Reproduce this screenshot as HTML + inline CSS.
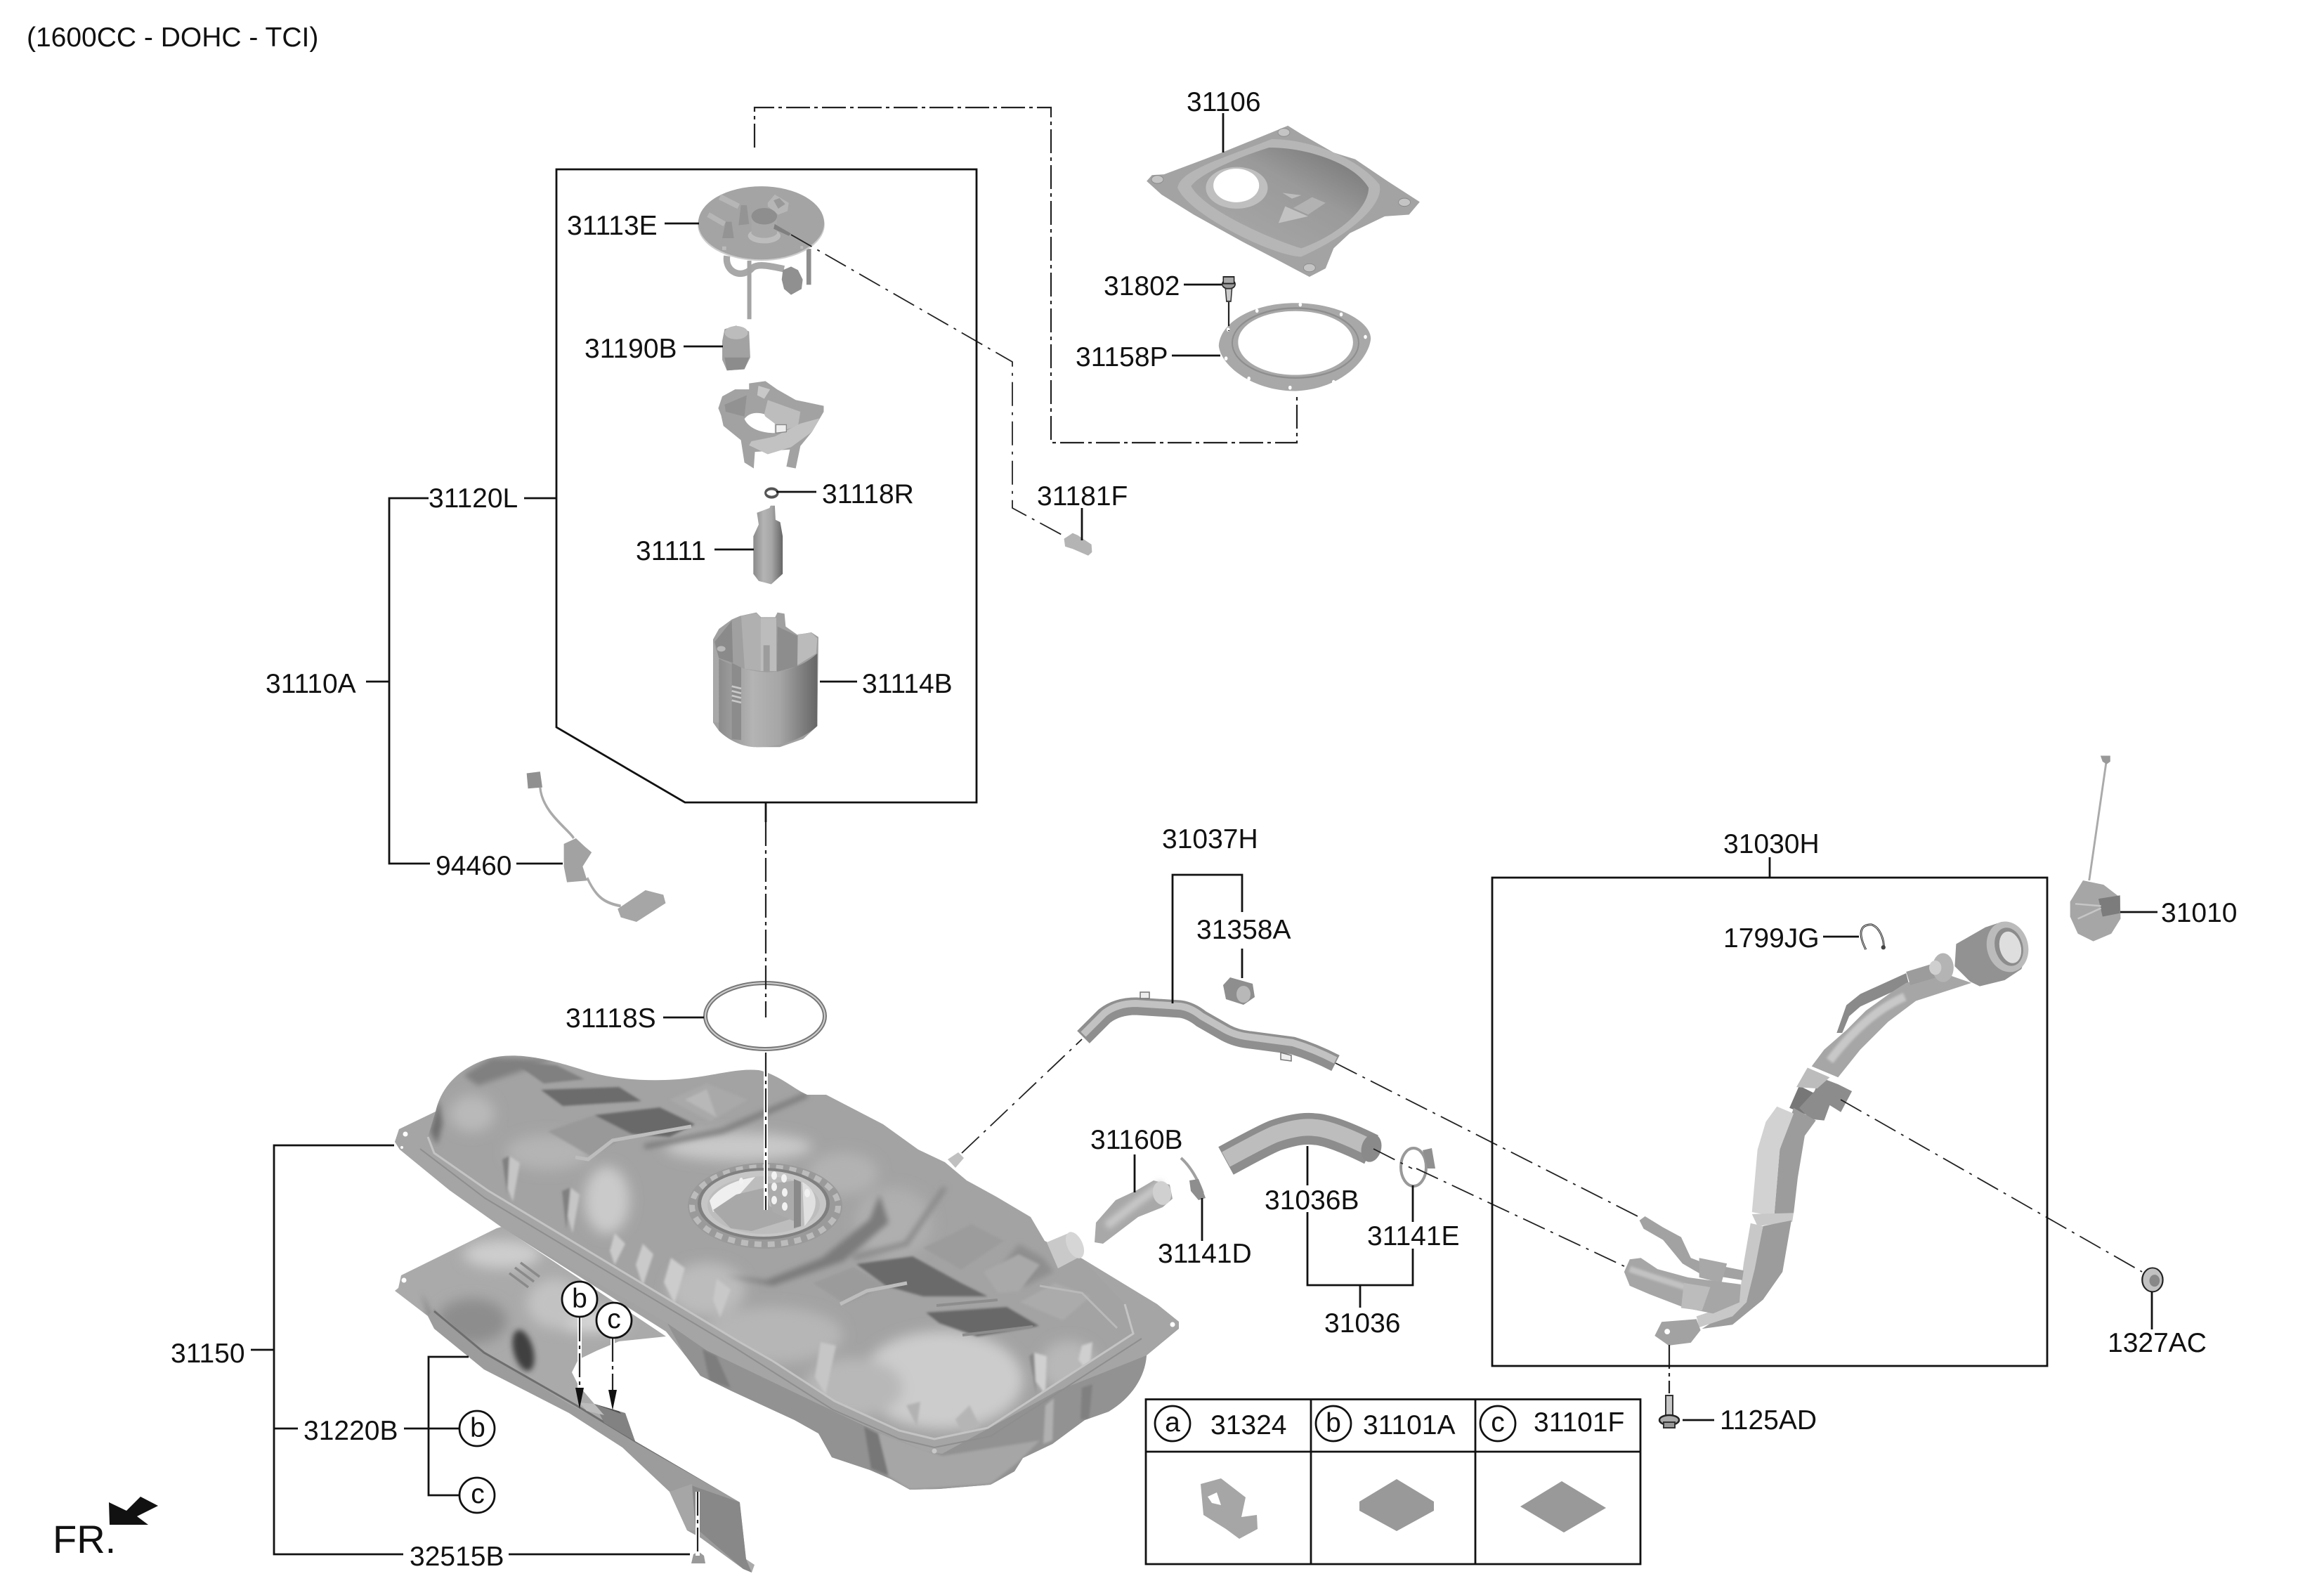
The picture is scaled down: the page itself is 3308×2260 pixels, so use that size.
<!DOCTYPE html>
<html><head><meta charset="utf-8"><style>
html,body{margin:0;padding:0;background:#fff}
svg{display:block}
text{font-family:"Liberation Sans",sans-serif;font-size:39px;fill:#111}
.l{fill:none;stroke:#111;stroke-width:2.8}
.d{fill:none;stroke:#222;stroke-width:2.2;stroke-dasharray:34 6 5 6}
.t{fill:none;stroke:#222;stroke-width:1.8;stroke-dasharray:34 9 4 9}
.p{fill:none;stroke-linecap:butt;stroke-linejoin:round}
</style></head><body>
<svg width="3308" height="2260" viewBox="0 0 3308 2260" xmlns="http://www.w3.org/2000/svg">
<defs>
<filter id="b" x="-40%" y="-40%" width="180%" height="180%"><feGaussianBlur stdDeviation="9"/></filter>
<filter id="m" x="-40%" y="-40%" width="180%" height="180%"><feGaussianBlur stdDeviation="4"/></filter>
<filter id="s" x="-30%" y="-30%" width="160%" height="160%"><feGaussianBlur stdDeviation="1.6"/></filter>
<clipPath id="tankclip"><path d="M562 1625L568 1607L620 1582C625 1560 640 1525 694 1507C730 1497 770 1503 837 1525C880 1538 940 1540 984 1534C1020 1530 1050 1520 1080 1523C1110 1530 1130 1550 1149 1558L1176 1558L1257 1600L1307 1636L1345 1654L1376 1680L1418 1703L1467 1732L1487 1766L1540 1791L1647 1856L1678 1881V1891L1632 1929C1630 1960 1610 1990 1578 2009L1544 2021L1498 2055L1456 2075L1444 2094L1410 2113L1337 2119L1295 2120L1268 2105L1238 2092L1184 2074L1165 2040L1131 2021L1042 1980L997 1958L977 1931L948 1895L716 1748L640 1694L569 1636Z"/></clipPath>
<clipPath id="shieldclip"><path d="M562 1837L567 1833L571 1815L707 1748L714 1746L948 1902L881 1909L850 1922L823 1935L814 1953L823 1971L846 1998L890 2011L904 2051L1053 2138L1062 2219L1074 2227L1070 2238L1058 2233L998 2189L978 2178L953 2123L886 2060L810 2011L689 1949L618 1891L609 1873Z"/></clipPath>
<linearGradient id="cup" x1="0" x2="1" y1="0" y2="0"><stop offset="0" stop-color="#8a8a8a"/><stop offset=".35" stop-color="#b4b4b4"/><stop offset=".62" stop-color="#a6a6a6"/><stop offset="1" stop-color="#666"/></linearGradient>
<linearGradient id="pan" x1="0" x2="1" y1="1" y2="0"><stop offset="0" stop-color="#ababab"/><stop offset=".6" stop-color="#9a9a9a"/><stop offset="1" stop-color="#707070"/></linearGradient>
</defs>

<!-- TANK -->
<g clip-path="url(#tankclip)">
 <rect x="540" y="1480" width="1160" height="660" fill="#a3a3a3"/>
 <g filter="url(#b)">
  <ellipse cx="864" cy="1708" rx="32" ry="48" fill="#cacaca"/>
  <ellipse cx="1051" cy="1632" rx="105" ry="20" fill="#c9c9c9"/>
  <ellipse cx="1341" cy="1964" rx="115" ry="70" fill="#cccccc"/>
  <ellipse cx="1215" cy="1975" rx="70" ry="42" fill="#b8b8b8"/>
  <ellipse cx="672" cy="1585" rx="32" ry="26" fill="#b9b9b9"/>
  <ellipse cx="1100" cy="1900" rx="100" ry="40" fill="#b6b6b6"/>
  <ellipse cx="1006" cy="1835" rx="55" ry="38" fill="#bcbcbc"/>
  <ellipse cx="1521" cy="1944" rx="40" ry="36" fill="#b8b8b8"/>
  <ellipse cx="1272" cy="1740" rx="55" ry="50" fill="#afafaf"/>
  <ellipse cx="1200" cy="1670" rx="50" ry="30" fill="#b2b2b2"/>
  <ellipse cx="780" cy="1640" rx="60" ry="25" fill="#b4b4b4"/>
 </g>
 <g filter="url(#m)">
  <path d="M660 1530L700 1505L790 1508L740 1525L680 1545Z" fill="#808080"/>
  <path d="M1030 1815L1090 1822L1170 1790L1238 1735L1252 1700L1265 1740L1200 1795L1100 1830Z" fill="#7c7c7c"/>
  <path d="M917 1632L1029 1609L1149 1558" fill="none" stroke="#787878" stroke-width="7"/>
  <path d="M1215 1790L1290 1770L1345 1690" fill="none" stroke="#888" stroke-width="7"/>
  <path d="M1450 1770L1485 1790L1500 1810L1460 1830L1420 1810Z" fill="#8f8f8f"/>
  <path d="M625 1565L612 1610L622 1630L630 1600Z" fill="#707070"/>
 </g>
 <g filter="url(#s)">
  <path d="M730 1511L792 1516L832 1536L774 1542Z" fill="#808080"/>
  <path d="M770 1551L881 1547L913 1567L801 1574Z" fill="#6c6c6c"/>
  <path d="M846 1587L939 1576L989 1600L953 1618L899 1614Z" fill="#696969"/>
  <path d="M780 1610L846 1587L899 1614L840 1645Z" fill="#999"/>
  <path d="M953 1565L1006 1542L1064 1565L1011 1596Z" fill="#a9a9a9"/>
  <path d="M975 1565L1006 1550L1020 1590Z" fill="#b8b8b8"/>
  <path d="M1219 1799L1299 1788L1368 1826L1406 1845L1314 1845L1261 1830Z" fill="#6a6a6a"/>
  <path d="M1318 1868L1433 1860L1479 1887L1391 1902L1337 1883Z" fill="#676767"/>
  <path d="M1314 1776L1383 1742L1429 1766L1368 1807Z" fill="#9c9c9c"/>
  <path d="M1452 1853L1502 1826L1552 1845L1513 1879Z" fill="#ababab"/>
  <path d="M1157 1826L1215 1803L1261 1830L1203 1856Z" fill="#9b9b9b"/>
  <path d="M1400 1810L1450 1785L1480 1800L1450 1838L1420 1840Z" fill="#a9a9a9"/>
  <path d="M725 1645L740 1655L730 1710L722 1690Z" fill="#c6c6c6"/><path d="M715 1650L725 1645L722 1700Z" fill="#808080"/>
  <path d="M812 1690L825 1700L815 1755L808 1730Z" fill="#c6c6c6"/><path d="M800 1695L812 1690L806 1750Z" fill="#808080"/>
  <path d="M875 1755L890 1770L875 1800L868 1780Z" fill="#cacaca"/>
  <path d="M915 1770L930 1785L915 1830L905 1800Z" fill="#cacaca"/>
  <path d="M955 1790L975 1805L960 1855L945 1825Z" fill="#cccccc"/>
  <path d="M1020 1820L1040 1835L1025 1875L1015 1850Z" fill="#c8c8c8"/>
  <path d="M1168 1910L1190 1915L1175 1985L1160 1960Z" fill="#c6c6c6"/>
  <path d="M1472 1925L1490 1930L1488 1985L1470 1960Z" fill="#d0d0d0"/><path d="M1465 1930L1472 1925L1475 1985Z" fill="#888"/>
  <path d="M1540 1915L1555 1910L1550 1955L1535 1935Z" fill="#cfcfcf"/>
  <path d="M1360 2020L1380 2000L1395 2030L1370 2040Z" fill="#b5b5b5"/>
  <path d="M1290 2000L1310 1995L1305 2030Z" fill="#b2b2b2"/>
 </g>
 <path d="M819 1647L837 1650L872 1623L984 1603" fill="none" stroke="#bdbdbd" stroke-width="5"/>
 <path d="M1196 1856L1234 1837L1291 1826" fill="none" stroke="#bdbdbd" stroke-width="5"/>
 <path d="M1480 1830L1540 1840L1590 1890" fill="none" stroke="#b9b9b9" stroke-width="3"/>
 <path d="M1333 1858L1420 1850M1370 1900L1470 1888" fill="none" stroke="#8d8d8d" stroke-width="4"/>
 <path d="M948 1880L1006 1920L1100 1965L1230 2027L1318 2063L1341 2067L1506 1977L1632 1927L1640 1960L1600 2020L1460 2100L1300 2140L1170 2090L1120 2040L1000 1975Z" fill="#929292"/>
 <g filter="url(#s)">
  <path d="M1230 2030L1260 2098L1295 2120L1410 2112L1450 2080L1480 2050L1341 2072Z" fill="#a6a6a6"/>
  <path d="M1000 1920L1020 1930L1040 1975L1010 1965Z" fill="#7d7d7d"/>
  <path d="M1230 2030L1250 2040L1265 2100L1240 2090Z" fill="#777"/>
  <path d="M1488 2000L1500 1990L1498 2050L1485 2055Z" fill="#b0b0b0"/>
  <path d="M1540 1975L1555 1970L1550 2020L1538 2020Z" fill="#808080"/>
 </g>
 <path d="M562 1625L569 1636L640 1694L716 1748L948 1882L1006 1922L1100 1967L1230 2029L1318 2065L1341 2069L1506 1979L1632 1929L1678 1887V1881L1647 1856L1540 1791L1601 1856L1613 1898L1406 2032L1330 2048L1280 2036L1188 1994L1100 1937L1051 1909L850 1788L694 1694L618 1641L609 1618L620 1582L568 1607Z" fill="#a5a5a5"/>
 <path d="M609 1618L618 1641L694 1694L850 1788L1051 1909L1100 1937L1188 1994L1280 2036L1330 2048L1406 2032L1613 1898L1601 1856" fill="none" stroke="#c4c4c4" stroke-width="3"/>
 <path d="M598 1635L690 1705L845 1798L1046 1918L1185 2006L1280 2048L1330 2060L1410 2044L1625 1905" fill="none" stroke="#8e8e8e" stroke-width="2"/>
 <ellipse cx="1089" cy="1716" rx="110" ry="61" fill="#9a9a9a"/>
 <ellipse cx="1089" cy="1716" rx="104" ry="55" fill="none" stroke="#bcbcbc" stroke-width="8" stroke-dasharray="10 9"/>
 <ellipse cx="1087" cy="1713" rx="94" ry="51" fill="#808080"/>
 <ellipse cx="1087" cy="1713" rx="89" ry="47" fill="#c6c6c6"/>
 <ellipse cx="1087" cy="1715" rx="80" ry="41" fill="#bdbdbd"/>
 <path d="M1010 1709C1018 1695 1040 1680 1075 1675L1048 1705L1015 1725Z" fill="#efefef"/>
 <path d="M1015 1722L1048 1700L1090 1690L1095 1716L1125 1735L1070 1752L1040 1748Z" fill="#a8a8a8"/>
 <path d="M1090 1685L1135 1680L1135 1740L1100 1725Z" fill="#ababab"/>
 <path d="M1130 1678L1140 1682V1745L1130 1748Z" fill="#8a8a8a"/>
 <path d="M1142 1682C1165 1695 1168 1720 1145 1745Z" fill="#e0e0e0"/>
 <g fill="#f2f2f2"><ellipse cx="1055" cy="1681" rx="3" ry="5"/><ellipse cx="1102" cy="1673" rx="4" ry="6"/><ellipse cx="1116" cy="1677" rx="4" ry="6"/><ellipse cx="1102" cy="1689" rx="4" ry="6"/><ellipse cx="1117" cy="1697" rx="4" ry="6"/><ellipse cx="1102" cy="1708" rx="4" ry="6"/><ellipse cx="1117" cy="1717" rx="4" ry="6"/><ellipse cx="1149" cy="1698" rx="4" ry="6"/></g>
 <path d="M1490 1768L1521 1755L1538 1788L1506 1805Z" fill="#c9c9c9"/>
 <ellipse cx="1530" cy="1772" rx="11" ry="20" fill="#d6d6d6" transform="rotate(-25 1530 1772)"/>
 <circle cx="577" cy="1614" r="3.5" fill="#fff"/><circle cx="572" cy="1633" r="2" fill="#fff"/><circle cx="1669" cy="1885" r="3.5" fill="#fff"/><circle cx="1330" cy="2065" r="3.5" fill="#c8c8c8"/>
</g>
<path d="M1349 1650L1364 1640L1372 1648L1360 1662Z" fill="#c0c0c0"/>
<path d="M1490 1768L1521 1755L1538 1788L1506 1805Z" fill="#c9c9c9"/>
<ellipse cx="1530" cy="1772" rx="11" ry="20" fill="#d6d6d6" transform="rotate(-25 1530 1772)"/>

<!-- UNDER SHIELD -->
<g clip-path="url(#shieldclip)">
 <rect x="550" y="1740" width="540" height="510" fill="#aaa"/>
 <g filter="url(#b)">
  <ellipse cx="672" cy="1880" rx="50" ry="32" fill="#8d8d8d"/>
  <ellipse cx="840" cy="1880" rx="55" ry="16" fill="#d6d6d6"/>
  <ellipse cx="715" cy="1785" rx="55" ry="20" fill="#cdcdcd"/>
  <ellipse cx="790" cy="1855" rx="40" ry="35" fill="#c2c2c2"/>
 </g>
 <g filter="url(#m)">
  <ellipse cx="745" cy="1922" rx="14" ry="30" fill="#3f3f3f" transform="rotate(-15 745 1922)"/>
  <path d="M600 1840L610 1873L618 1880L605 1850Z" fill="#777"/>
 </g>
 <path d="M618 1862L689 1925L810 1998L890 2040L1053 2138L1062 2219L1058 2233L998 2189L978 2178L953 2123L886 2060L810 2011L689 1949L618 1891L609 1873Z" fill="#9c9c9c"/>
 <path d="M618 1866L689 1925L820 2000L904 2051L1053 2136" fill="none" stroke="#6e6e6e" stroke-width="3"/>
 <path d="M846 1998L890 2011L904 2051L860 2025Z" fill="#828282"/>
 <path d="M846 1998L872 1996L884 2012Z" fill="#505050"/>
 <path d="M825 1996L846 1998L860 2014L835 2008Z" fill="#bcbcbc"/>
 <path d="M984 2114L1053 2138L1062 2219L1070 2238L1058 2233L985 2170Z" fill="#888"/>
 <path d="M953 2123L985 2112L990 2178L978 2178Z" fill="#a6a6a6"/>
 <path d="M725 1812L752 1832M733 1804L760 1824M741 1797L768 1817" stroke="#8a8a8a" stroke-width="3.5" fill="none"/>
 <circle cx="575" cy="1822" r="3.5" fill="#fff"/>
</g>

<!-- PUMP TOP ASSEMBLY -->
<g transform="translate(960,250) scale(.332,.336)">
 <path d="M225 340C215 410 290 440 335 390C360 370 420 385 470 395" fill="none" stroke="#a8a8a8" stroke-width="28"/>
 <rect x="312" y="360" width="18" height="248" fill="#a4a4a4"/>
 <rect x="566" y="310" width="20" height="152" fill="#8e8e8e"/>
 <path d="M465 400L500 385L530 400L550 440L545 480L500 505L470 480L460 440Z" fill="#909090"/>
 <ellipse cx="372" cy="208" rx="272" ry="153" fill="#cdcdcd"/>
 <ellipse cx="372" cy="200" rx="270" ry="155" fill="#a4a4a4"/>
 <path d="M195 90L275 130" stroke="#b6b6b6" stroke-width="24"/>
 <path d="M145 165L215 205" stroke="#b6b6b6" stroke-width="22"/>
 <path d="M285 125L310 125L320 205L275 210Z M220 195L245 195L255 265L205 265Z" fill="#949494"/>
 <path d="M400 115L430 80L490 115L485 150L445 165L400 130Z" fill="#b6b6b6"/>
 <path d="M425 105L450 95L475 120L445 140Z" fill="#999"/>
 <ellipse cx="385" cy="255" rx="70" ry="32" fill="#bdbdbd"/>
 <path d="M330 175H440V245C420 270 350 270 330 245Z" fill="#a8a8a8"/>
 <ellipse cx="385" cy="172" rx="55" ry="35" fill="#8e8e8e"/>
 <path d="M430 205L500 245L490 255L425 225Z" fill="#808080"/>
 <path d="M205 300H222V315H205ZM540 298H552V310H540Z" fill="#bbb"/>
 <path d="M205 700L215 650L265 635L320 660L325 770L300 820L225 825L205 780Z" fill="#a2a2a2"/>
 <ellipse cx="265" cy="665" rx="50" ry="28" fill="#bcbcbc"/>
 <path d="M215 770L320 770L300 820L225 825Z" fill="#8c8c8c"/>
 <path d="M188 985L205 935L260 905L320 905L320 880L390 870L440 905L520 950L640 975L640 1000L590 1085L540 1145L520 1240L480 1232L495 1160L345 1170L340 1240L300 1215L285 1120L210 1060L200 1015Z" fill="#a2a2a2"/>
 <path d="M215 970L310 930L300 1020L220 1000Z" fill="#929292"/>
 <path d="M400 950L540 1000L530 1060L430 1090L385 1010Z" fill="#bdbdbd"/>
 <path d="M300 1030C320 1075 380 1090 430 1090L430 1050L390 1020L385 1010C350 1000 320 1005 300 1030Z" fill="#fff"/>
 <path d="M330 1125L430 1105L540 1050L622 1028L590 1085L500 1150L400 1180L320 1142Z" fill="#c2c2c2"/>
 <path d="M360 890L410 905L385 945L355 930Z" fill="#c8c8c8"/>
 <path d="M435 1055H480V1085L435 1090Z" fill="#eee" stroke="#888" stroke-width="4"/>
</g>

<!-- PUMP & CUP -->
<g transform="translate(700,120) scale(.51,.67)">
 <ellipse cx="781" cy="868" rx="17" ry="9" fill="#fff" stroke="#555" stroke-width="6"/>
 <path d="M740 910L775 900L778 895L790 895L792 925L805 930L812 960V1040L780 1062L745 1055L730 1040V960L745 935Z" fill="url(#cup)"/>
</g>
<g transform="translate(960,780) scale(.3333)">
 <path d="M165 390L190 345L245 305L280 290L350 275L370 295L430 295L440 275L470 280L475 335L525 370L585 360L615 380L610 760L550 815L450 850L350 850L250 820L190 780L165 745Z" fill="#a0a0a0"/>
 <path d="M172 400L245 310L250 490L190 470Z" fill="#8a8a8a"/>
 <path d="M285 290L350 278L368 295V525L300 515Z" fill="#b0b0b0"/>
 <path d="M368 298H435V525H368Z" fill="#bcbcbc"/>
 <rect x="380" y="415" width="27" height="115" fill="#9c9c9c"/>
 <path d="M440 335L525 375V505L438 528Z" fill="#8d8d8d"/>
 <path d="M528 368L585 362L610 385L605 450L525 500Z" fill="#bbb"/>
 <path d="M185 470C260 510 340 530 400 530C470 530 550 505 610 450L610 760C550 815 450 850 350 850C290 850 230 820 190 780Z" fill="url(#cup)"/>
 <path d="M245 490L285 510V820L245 815Z" fill="#8c8c8c"/>
 <path d="M245 590L285 600M245 610L285 620M245 630L285 640M245 650L285 660" stroke="#c8c8c8" stroke-width="8"/>
 <path d="M165 400L190 470V745L168 745Z" fill="#a8a8a8"/>
 <ellipse cx="200" cy="430" rx="18" ry="12" fill="#b8b8b8"/>
</g>

<!-- TOP COVER & RING -->
<g transform="translate(1500,100) scale(.383,.478)">
 <path d="M345 330L365 312L410 310L560 265L640 240L810 185L870 165L920 190L1040 245L1120 265L1240 330L1360 392L1320 430L1230 435L1100 485L1040 530L1010 590L950 615L820 560L700 510L520 430L400 370Z" fill="#a3a3a3"/>
 <path d="M460 350C470 300 600 270 810 205C950 205 1130 260 1210 340C1230 400 1100 490 920 555C820 555 500 430 460 350Z" fill="#b6b6b6"/>
 <path d="M510 345C540 310 680 260 800 230C950 230 1120 280 1170 350C1170 410 1060 490 920 530C830 510 560 420 510 345Z" fill="url(#pan)"/>
 <ellipse cx="680" cy="350" rx="115" ry="62" fill="#bfbfbf"/>
 <ellipse cx="678" cy="343" rx="85" ry="50" fill="#fff"/>
 <path d="M835 455L860 405L945 435Z" fill="#c2c2c2"/>
 <path d="M890 410L960 378L1010 395L945 430Z" fill="#b2b2b2"/>
 <path d="M850 365L920 372L885 382Z" fill="#bcbcbc"/>
 <g fill="#c4c4c4" stroke="#888" stroke-width="2"><ellipse cx="385" cy="325" rx="22" ry="12"/><ellipse cx="855" cy="185" rx="22" ry="12"/><ellipse cx="1303" cy="393" rx="22" ry="12"/><ellipse cx="950" cy="588" rx="22" ry="12"/></g>
 <path fill-rule="evenodd" d="M897 693C1060 693 1180 750 1178 800C1170 860 1070 950 897 955C740 955 620 880 613 820C618 750 740 693 897 693ZM898 717C780 717 685 755 685 810C685 865 780 907 898 907C1015 907 1112 865 1112 810C1112 755 1015 717 898 717Z" fill="#a8a8a8"/>
 <ellipse cx="898" cy="812" rx="235" ry="104" fill="none" stroke="#8e8e8e" stroke-width="5"/>
 <g fill="#fff"><circle cx="755" cy="716" r="6"/><circle cx="916" cy="698" r="6"/><circle cx="1068" cy="727" r="6"/><circle cx="1158" cy="794" r="6"/><circle cx="1145" cy="870" r="6"/><circle cx="1040" cy="928" r="6"/><circle cx="878" cy="945" r="6"/><circle cx="725" cy="918" r="6"/><circle cx="640" cy="858" r="6"/><circle cx="648" cy="772" r="6"/></g>
 <ellipse cx="650" cy="637" rx="24" ry="14" fill="#9a9a9a" stroke="#222" stroke-width="4"/>
 <path d="M630 615H670V635H630Z" fill="#aaa" stroke="#222" stroke-width="4"/>
 <path d="M638 650H662L658 688H642Z" fill="#ccc" stroke="#333" stroke-width="4"/>
 <path d="M38 1395L70 1378L90 1385L140 1412L142 1435L128 1445L70 1425L42 1418Z" fill="#b4b4b4"/>
</g>

<!-- SENDER -->
<g transform="translate(0,1000) scale(.638,.804)">
 <path d="M1175 125L1205 122L1210 150L1178 152Z" fill="#909090"/>
 <path d="M1205 150C1210 195 1270 225 1280 240M1310 310C1330 345 1350 355 1385 360" fill="none" stroke="#aaa" stroke-width="5"/>
 <path d="M1258 250L1285 240L1305 255L1320 265L1300 290L1310 315L1265 318L1258 290Z" fill="#a2a2a2"/>
 <path d="M1378 365L1440 332L1480 340L1485 355L1420 388L1385 380Z" fill="#a6a6a6"/>
</g>

<!-- FILLER NECK -->
<g transform="translate(2300,1300) scale(.3954)">
 <path d="M1045 215L880 290L830 330L795 430L815 430L840 370L880 335L1055 255Z" fill="#8a8a8a"/>
 <path d="M1045 250L1180 215L1280 250L1080 315L980 390L880 490L800 590L705 550L750 490L830 420L900 350L990 285Z" fill="#a6a6a6"/>
 <path d="M1040 300Q900 360 770 530" fill="none" stroke="#c8c8c8" stroke-width="30" filter="url(#m)"/>
 <path d="M1045 210L1150 178L1172 225L1060 258Z" fill="#9c9c9c"/>
 <ellipse cx="1178" cy="195" rx="38" ry="52" fill="#b4b4b4"/>
 <ellipse cx="1150" cy="195" rx="22" ry="26" fill="#cfcfcf"/>
 <path d="M1225 110L1330 50L1390 30L1450 50L1485 130L1460 200L1400 240L1310 262L1275 245L1220 190Z" fill="#929292"/>
 <ellipse cx="1410" cy="120" rx="74" ry="92" fill="#bbb" transform="rotate(-15 1410 120)"/>
 <ellipse cx="1415" cy="120" rx="50" ry="70" fill="#8c8c8c" transform="rotate(-15 1415 120)"/>
 <ellipse cx="1420" cy="122" rx="38" ry="58" fill="#dedede" transform="rotate(-15 1420 122)"/>
 <path d="M660 620L720 650L700 730L625 700Z" fill="#777"/>
 <path d="M735 590L800 615L850 640L810 715L770 690L750 745L700 740L660 700L715 640Z" fill="#8c8c8c"/>
 <path d="M690 555L770 590L725 630L650 625Z" fill="#bcbcbc"/>
 <path d="M640 700L720 745L680 800L655 950L640 1080L570 1090L590 850Z" fill="#9c9c9c"/>
 <path d="M580 695L640 720L590 850L570 1090L490 1075L510 850L540 750Z" fill="#d2d2d2"/>
 <path d="M490 1082L640 1078L635 1110L510 1125Z" fill="#c8c8c8"/>
 <path d="M530 1125L632 1105L600 1290L530 1390L420 1480L310 1495L380 1450L470 1400Z" fill="#9c9c9c"/>
 <path d="M485 1115L530 1125L500 1280L470 1400L420 1450L300 1490L290 1450L380 1420L450 1340L460 1260Z" fill="#c8c8c8"/>
 <path d="M85 1105L105 1090L170 1130L235 1165L270 1240L310 1255L460 1285L455 1320L300 1295L240 1260L170 1175L100 1135Z" fill="#a2a2a2"/>
 <path d="M300 1240L400 1260L380 1330L300 1310Z" fill="#a8a8a8"/>
 <path d="M30 1290L50 1245L90 1240L150 1280L260 1310L450 1335L445 1400L350 1440L250 1420L120 1370L50 1340Z" fill="#a6a6a6"/>
 <path d="M50 1280L140 1310L250 1345" fill="none" stroke="#c2c2c2" stroke-width="22" filter="url(#m)"/>
 <path d="M245 1330L340 1345L310 1430L235 1420Z" fill="#bcbcbc"/>
 <path d="M140 1520L165 1470L290 1460L305 1500L270 1545L190 1555Z" fill="#a2a2a2"/>
 <circle cx="185" cy="1505" r="10" fill="#fff"/>
 <path d="M900 130C870 70 880 40 920 40C950 50 965 90 965 125" fill="none" stroke="#222" stroke-width="7"/>
 <path d="M900 130C870 70 880 40 920 40C950 50 965 90 965 125" fill="none" stroke="#fff" stroke-width="2"/>
 <circle cx="963" cy="122" r="8" fill="#444"/>
</g>

<!-- FUEL CAP & NUT -->
<g transform="translate(2100,1050) scale(.733,.606)">
 <path d="M1226 50L1192 335" stroke="#aaa" stroke-width="4" fill="none"/>
 <path d="M1214 42H1233V56L1226 62L1218 56Z" fill="#999"/>
 <path d="M1155 385L1180 335L1220 345L1252 375L1253 425L1235 460L1200 478L1170 460L1155 420Z" fill="#a6a6a6"/>
 <path d="M1210 378L1252 370L1252 412L1218 420Z" fill="#7c7c7c"/>
 <path d="M1165 390L1215 395M1170 425L1215 400" stroke="#c6c6c6" stroke-width="4" fill="none"/>
 <ellipse cx="1315" cy="1273" rx="20" ry="28" fill="#c2c2c2" stroke="#222" stroke-width="3"/>
 <ellipse cx="1319" cy="1275" rx="10" ry="14" fill="#888"/>
</g>

<!-- PIPES -->
<path class="p" d="M1542 1476L1572 1446Q1590 1432 1617 1432L1680 1436Q1695 1438 1710 1450L1745 1470Q1760 1478 1780 1480L1840 1488Q1870 1497 1901 1513" stroke="#8f8f8f" stroke-width="25"/>
<path class="p" d="M1542 1472L1572 1442Q1590 1428 1617 1428L1680 1432Q1695 1434 1710 1446L1745 1466Q1760 1474 1780 1476L1840 1484Q1870 1493 1901 1509" stroke="#c2c2c2" stroke-width="10"/>
<path d="M1623 1412H1636V1421H1623ZM1823 1498L1838 1502V1510L1823 1508Z" fill="#eee" stroke="#777" stroke-width="1.5"/>
<path class="p" d="M1745 1652Q1800 1622 1815 1616Q1850 1604 1872 1607Q1895 1608 1952 1636" stroke="#8d8d8d" stroke-width="45"/>
<path class="p" d="M1745 1650Q1800 1620 1815 1614Q1850 1602 1872 1605Q1895 1606 1952 1634" stroke="#bdbdbd" stroke-width="24"/>
<ellipse cx="1952" cy="1634" rx="14" ry="20" fill="#8a8a8a" transform="rotate(15 1952 1634)"/>
<path d="M1642 1680L1665 1686L1669 1706L1655 1718L1620 1732L1570 1770L1558 1768L1560 1740L1588 1708L1618 1694Z" fill="#a8a8a8"/>
<path d="M1655 1685L1620 1710L1575 1745" fill="none" stroke="#c8c8c8" stroke-width="12" filter="url(#m)"/>
<ellipse cx="1654" cy="1698" rx="13" ry="17" fill="#d0d0d0" transform="rotate(-10 1654 1698)"/>
<path d="M1681 1648Q1700 1665 1712 1698" fill="none" stroke="#a0a0a0" stroke-width="4"/>
<path d="M1693 1680L1706 1678L1716 1705L1706 1708L1695 1695Z" fill="#8e8e8e"/>
<ellipse cx="2012" cy="1661" rx="18" ry="27" fill="none" stroke="#999" stroke-width="4"/>
<path d="M2025 1637L2038 1634L2043 1663L2032 1663Z" fill="#909090"/>
<path d="M1741 1402L1751 1391L1783 1400L1786 1419L1770 1430L1745 1422Z" fill="#8e8e8e"/>
<ellipse cx="1770" cy="1415" rx="10" ry="12" fill="#b8b8b8"/>

<!-- TABLE PARTS -->
<path d="M1709 2112L1738 2104L1773 2131L1767 2159L1789 2156L1790 2176L1764 2190L1745 2176L1713 2156Z" fill="#a6a6a6"/>
<path d="M1719 2130L1732 2124L1738 2142L1725 2139Z" fill="#fff"/>
<path d="M1935 2137L1988 2105L2041 2137V2150L1988 2179L1935 2150Z" fill="#999"/>
<path d="M2164 2144L2223 2108L2286 2146L2226 2181Z" fill="#999"/>
<path d="M2371 1986H2381V2022H2371Z" fill="#c6c6c6" stroke="#333" stroke-width="2"/>
<ellipse cx="2376" cy="2021" rx="14" ry="7" fill="#aaa" stroke="#222" stroke-width="2.5"/>
<path d="M2368 2024H2384V2032H2368Z" fill="#999" stroke="#333" stroke-width="2"/>

<path d="M984 2225L987 2212L994 2208L1002 2214L1004 2225Z" fill="#999"/>
<ellipse cx="1089" cy="1446" rx="85" ry="47" fill="none" stroke="#777" stroke-width="6"/>
<ellipse cx="1089" cy="1446" rx="85" ry="47" fill="none" stroke="#d0d0d0" stroke-width="2"/>

<!-- CONNECTORS -->
<path class="d" d="M1074 210V153H1496V630H1846V561"/>
<path class="t" d="M1126 334L1441 515V723L1515 763"/>
<path class="l" d="M1090 1142V1170"/>
<path class="d" d="M1090 1170V1448"/>
<path d="M1090 1498V1722" stroke="#fff" stroke-width="6" fill="none"/>
<path class="d" d="M1090 1498V1722"/>
<path class="t" d="M1369 1641L1540 1479"/>
<path class="t" d="M1901 1513L2335 1733"/>
<path class="t" d="M1955 1635L2010 1663M2016 1663L2316 1804"/>
<path class="t" d="M2620 1565L3049 1810"/>
<path class="d" d="M2376 1914V1983"/>
<path class="d" d="M1749 430V471"/>
<path d="M993 2123V2214" stroke="#fff" stroke-width="6" fill="none"/>
<path class="d" d="M993 2123V2214"/>
<path d="M825 1875V1978M872 1904V1980" stroke="#fff" stroke-width="6" fill="none"/>
<path class="d" d="M825 1875V1978"/>
<path class="d" d="M872 1904V1980"/>
<path d="M819 1975H831L825 2005ZM866 1978H878L872 2007Z" fill="#111"/>

<!-- BOXES -->
<path class="l" d="M792 241H1390V1142H975L792 1035Z"/>
<rect class="l" x="2124" y="1249" width="790" height="695"/>
<path class="l" d="M1631 1991.5H2335V2226H1631ZM1631 2066H2335M1866 1991.5V2226M2100 1991.5V2226"/>

<!-- LEADERS -->
<path class="l" d="M1741 161V217M1685 405H1739M1668 506H1737M1540 723V769M946 318H995M973 493H1029M1105 700H1162M1017 782H1073M1167 970H1220M746 709H792M610 709H554V1229H612M735 1229H801M521 970H554M944 1448H1002M357 1921H390M561 1630H390V2212H574M724 2212H982M390 2033H424M575 2033H654M667 1931H610V2128H654M2519 1220V1250M2595 1333H2646M3018 1298H3071M3063 1838V1892M2395 2021H2440M1669 1428V1245H1768V1298M1768 1350V1392M1615 1643V1697M1711 1705V1766M1861 1631V1687M1861 1725V1829H2011V1777M2011 1739V1687M1936 1829V1861"/>

<!-- CIRCLES -->
<g fill="#fff" stroke="#111" stroke-width="2.8">
<circle cx="825" cy="1849" r="25"/><circle cx="874" cy="1879" r="25"/>
<circle cx="679" cy="2033" r="25"/><circle cx="679" cy="2128" r="25"/>
<circle cx="1669" cy="2026" r="25"/><circle cx="1898" cy="2026" r="25"/><circle cx="2132" cy="2026" r="25"/>
</g>
<g text-anchor="middle">
<text x="825" y="1861">b</text><text x="874" y="1890">c</text>
<text x="680" y="2045">b</text><text x="680" y="2139">c</text>
<text x="1669" y="2037">a</text><text x="1898" y="2038">b</text><text x="2132" y="2037">c</text>
</g>

<!-- LABELS -->
<text x="38" y="66">(1600CC - DOHC - TCI)</text>
<text x="1689" y="158">31106</text>
<text x="1571" y="420">31802</text>
<text x="1531" y="521">31158P</text>
<text x="1476" y="719">31181F</text>
<text x="807" y="334">31113E</text>
<text x="832" y="509">31190B</text>
<text x="1170" y="716">31118R</text>
<text x="905" y="797">31111</text>
<text x="1227" y="986">31114B</text>
<text x="610" y="722">31120L</text>
<text x="378" y="986">31110A</text>
<text x="620" y="1245">94460</text>
<text x="805" y="1462">31118S</text>
<text x="243" y="1939">31150</text>
<text x="432" y="2049">31220B</text>
<text x="583" y="2228">32515B</text>
<text x="75" y="2210" style="font-size:56px">FR.</text>
<text x="2453" y="1214">31030H</text>
<text x="2453" y="1348">1799JG</text>
<text x="3076" y="1312">31010</text>
<text x="3000" y="1924">1327AC</text>
<text x="2448" y="2034">1125AD</text>
<text x="1654" y="1207">31037H</text>
<text x="1703" y="1336">31358A</text>
<text x="1552" y="1635">31160B</text>
<text x="1648" y="1797">31141D</text>
<text x="1800" y="1721">31036B</text>
<text x="1946" y="1772">31141E</text>
<text x="1885" y="1896">31036</text>
<text x="1723" y="2041">31324</text>
<text x="1940" y="2041">31101A</text>
<text x="2183" y="2037">31101F</text>

<path d="M155 2138L180 2150L200 2130L225 2143L195 2158L211 2170H156Z" fill="#111"/>
</svg>
</body></html>
